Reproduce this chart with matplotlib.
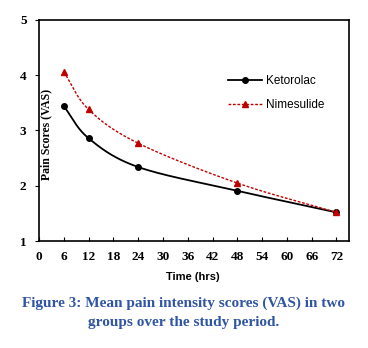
import numpy as np
import matplotlib.pyplot as plt

# mean VAS scores per group at each time point
hours = [6, 12, 24, 48, 72]
ketorolac = [3.44, 2.86, 2.34, 1.91, 1.52]
nimesulide = [4.06, 3.38, 2.77, 2.05, 1.52]
xticks = list(range(0, 73, 6))
yticks = [1, 2, 3, 4, 5]


def smooth(x, y, n=40):
    # Catmull-Rom curve through the points, like the spreadsheet "smoothed line"
    x = np.asarray(x, float)
    y = np.asarray(y, float)
    px = np.concatenate([[2 * x[0] - x[1]], x, [2 * x[-1] - x[-2]]])
    py = np.concatenate([[2 * y[0] - y[1]], y, [2 * y[-1] - y[-2]]])
    xs, ys = [], []
    t = np.linspace(0, 1, n)
    for i in range(1, len(px) - 2):
        p0, p1, p2, p3 = [np.array([px[j], py[j]]) for j in range(i - 1, i + 3)]
        m1 = (p2 - p0) / 6.0
        m2 = (p3 - p1) / 6.0
        for tt in t:
            b = ((1 - tt) ** 3 * p1 + 3 * (1 - tt) ** 2 * tt * (p1 + m1)
                 + 3 * (1 - tt) * tt ** 2 * (p2 - m2) + tt ** 3 * p2)
            xs.append(b[0])
            ys.append(b[1])
    return xs, ys


fig = plt.figure(figsize=(3.68, 3.48), dpi=100)
ax = fig.add_axes([0.106, 0.307, 0.842, 0.636])

kx, ky = smooth(hours, ketorolac)
nx, ny = smooth(hours, nimesulide)
ax.plot(kx, ky, color='black', lw=1.3)
ax.plot(hours, ketorolac, 'o', color='black', ms=4)
ax.plot(nx, ny, color='#c00000', lw=1.0, ls=(0, (2, 1.2)))
ax.plot(hours, nimesulide, '^', color='#c00000', ms=4.5)

# legend handles
ax.plot([], [], color='black', lw=1.3, marker='o', ms=4, label='Ketorolac')
ax.plot([], [], color='#c00000', lw=1.0, ls=(0, (2, 1.2)), marker='^', ms=4.5, label='Nimesulide')
leg = ax.legend(loc='upper left', bbox_to_anchor=(0.575, 0.8), frameon=False,
                fontsize=8.5, handlelength=2.9, labelspacing=1.05, handletextpad=0.3)
for t in leg.get_texts():
    t.set_family('Liberation Sans')

ax.set_xlim(0, 75)
ax.set_ylim(1, 5)
ax.set_xticks(xticks)
ax.set_yticks(yticks)
ax.tick_params(axis='x', direction='in', length=3, pad=7, labelsize=9.5)
ax.tick_params(axis='y', direction='out', length=3, pad=6, labelsize=9.5)
for lab in ax.get_xticklabels() + ax.get_yticklabels():
    lab.set_family('Liberation Serif')
    lab.set_fontweight('bold')
for s in ax.spines.values():
    s.set_linewidth(1.2)

fig.text(0.525, 0.205, 'Time (hrs)', ha='center', va='center', fontsize=8,
         fontweight='bold', family='Liberation Sans')
fig.text(0.125, 0.615, 'Pain Scores (VAS)', ha='center', va='center', rotation=90,
         fontsize=8.5, fontweight='bold', family='Liberation Serif')

cap_color = '#2f55a4'
fig.text(0.5, 0.13, 'Figure 3: Mean pain intensity scores (VAS) in two',
         ha='center', va='center', fontsize=11, fontweight='bold',
         family='Liberation Serif', color=cap_color)
fig.text(0.5, 0.073, 'groups over the study period.',
         ha='center', va='center', fontsize=11, fontweight='bold',
         family='Liberation Serif', color=cap_color)

fig.savefig('out.png', dpi=100)
